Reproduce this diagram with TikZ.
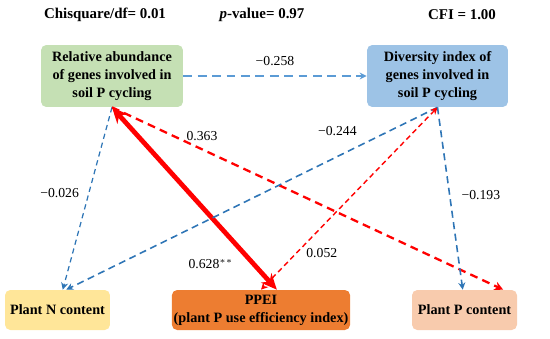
\documentclass[tikz,border=0pt]{standalone}
\usepackage{fontspec}
\setmainfont{Liberation Serif}[BoldFont={Liberation Serif Bold},
  ItalicFont={Liberation Serif Italic}, BoldItalicFont={Liberation Serif Bold Italic}]
\usetikzlibrary{arrows.meta, positioning}
\definecolor{boxGreen}{HTML}{C5E0B4}
\definecolor{boxBlue}{HTML}{9DC3E6}
\definecolor{boxYellow}{HTML}{FFE699}
\definecolor{boxOrange}{HTML}{ED7D31}
\definecolor{boxPeach}{HTML}{F8CBAD}
\definecolor{lineBlue}{HTML}{2E75B6}
\definecolor{lineLight}{HTML}{5B9BD5}
\definecolor{lineRed}{HTML}{FF0000}

\begin{document}
\begin{tikzpicture}[x=0.02cm, y=-0.02cm,
    varbox/.style={rounded corners=3pt, align=center, inner sep=1pt,
      font=\fontsize{8.1}{10.1}\selectfont\bfseries},
    fitlabel/.style={font=\fontsize{8.5}{10}\selectfont\bfseries},
    coef/.style={font=\fontsize{7.8}{9}\selectfont},
    negpath/.style={draw=lineBlue, dash pattern=on 4pt off 2.6pt, line width=0.9pt,
      -{Stealth[length=4pt,width=4pt]}},
    pospath/.style={draw=lineRed, dash pattern=on 4.5pt off 3pt, line width=1.3pt,
      -{Stealth[length=5pt,width=5pt]}}]
  \useasboundingbox (0,0) rectangle (550,338);
  % fit indices
  \node[fitlabel] (chi) at (105,15) {Chisquare/df= 0.01};
  \node[fitlabel] (pval) at (262,15) {\textit{p}-value= 0.97};
  \node[fitlabel] (cfi) at (462,15) {CFI = 1.00};
  % variables
  \node[varbox, fill=boxGreen, minimum width=2.84cm, minimum height=1.24cm]
    (rel) at (112,76) {Relative abundance\\of genes involved in\\soil P cycling};
  \node[varbox, fill=boxBlue, minimum width=2.82cm, minimum height=1.24cm]
    (div) at (437.5,76) {Diversity index of\\genes involved in\\soil P cycling};
  \node[varbox, fill=boxYellow, minimum width=2.1cm, minimum height=0.8cm]
    (plantN) at (57.5,310) {Plant N content};
  \node[varbox, fill=boxOrange, minimum width=3.48cm, minimum height=0.8cm]
    (ppei) at (261,310) {PPEI\\(plant P use efficiency index)};
  \node[varbox, fill=boxPeach, minimum width=2.1cm, minimum height=0.8cm]
    (plantP) at (464.5,310) {Plant P content};
  % paths
  \draw[negpath, draw=lineLight, line width=1.1pt, dash pattern=on 5pt off 3.2pt]
    (rel) -- (div) node[coef, midway, above=2pt] {−0.258};
  \draw[negpath, line width=0.7pt, dash pattern=on 3pt off 2.2pt]
    (rel.south) -- ([xshift=3pt]plantN.north)
    node[coef, pos=0.47, left=2pt] {−0.026};
  \draw[draw=lineRed, line width=2.7pt,
    {Stealth[length=9pt,width=8pt]}-{Stealth[length=9pt,width=8pt]}]
    (rel.south) -- ([xshift=9pt]ppei.north)
    node[coef, pos=0.86, left=7pt] {0.628$^{**}$};
  \draw[pospath] (rel.south) -- ([xshift=22pt]plantP.north)
    node[coef, pos=0.23, above=1pt] {0.363};
  \draw[negpath] (div.south) -- ([xshift=5pt]plantN.north)
    node[coef, pos=0.2, above left=1pt and 0pt] {−0.244};
  \draw[draw=lineRed, dash pattern=on 3pt off 2pt, line width=0.8pt,
    {Stealth[length=4pt,width=4pt]}-{Stealth[length=4pt,width=4pt]}]
    (div.south) -- (ppei.north)
    node[coef, pos=0.8, right=2pt] {0.052};
  \draw[negpath] (div.south) -- ([xshift=-1pt]plantP.north)
    node[coef, pos=0.48, right=3pt] {−0.193};
\end{tikzpicture}
\end{document}
